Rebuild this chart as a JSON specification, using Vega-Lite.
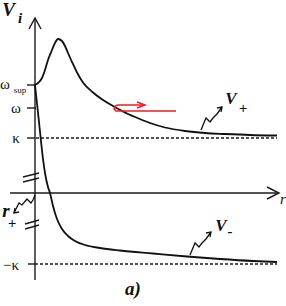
{
  "$schema": "https://vega.github.io/schema/vega-lite/v6.json",
  "width": 286,
  "height": 306,
  "padding": 0,
  "autosize": {"type": "fit", "contains": "padding"},
  "background": "white",
  "config": {"view": {"stroke": null}},
  "datasets": {
    "curves": [
      {"id": "vp", "o": 1, "x": 0, "y": 108}, {"id": "vp", "o": 2, "x": 3, "y": 110}, {"id": "vp", "o": 3, "x": 7, "y": 115},
      {"id": "vp", "o": 4, "x": 10, "y": 123}, {"id": "vp", "o": 5, "x": 13, "y": 133}, {"id": "vp", "o": 6, "x": 17, "y": 143},
      {"id": "vp", "o": 7, "x": 20, "y": 150}, {"id": "vp", "o": 8, "x": 23, "y": 154}, {"id": "vp", "o": 9, "x": 27, "y": 152},
      {"id": "vp", "o": 10, "x": 30, "y": 147}, {"id": "vp", "o": 11, "x": 33, "y": 140}, {"id": "vp", "o": 12, "x": 37, "y": 131},
      {"id": "vp", "o": 13, "x": 42, "y": 120.5}, {"id": "vp", "o": 14, "x": 48, "y": 110.5}, {"id": "vp", "o": 15, "x": 58, "y": 100.5},
      {"id": "vp", "o": 16, "x": 68, "y": 93}, {"id": "vp", "o": 17, "x": 78, "y": 87}, {"id": "vp", "o": 18, "x": 88, "y": 81.5},
      {"id": "vp", "o": 19, "x": 100, "y": 76}, {"id": "vp", "o": 20, "x": 115, "y": 70}, {"id": "vp", "o": 21, "x": 130, "y": 65.5},
      {"id": "vp", "o": 22, "x": 150, "y": 62}, {"id": "vp", "o": 23, "x": 170, "y": 60}, {"id": "vp", "o": 24, "x": 190, "y": 59},
      {"id": "vp", "o": 25, "x": 215, "y": 58}, {"id": "vp", "o": 26, "x": 242, "y": 57.5},
      {"id": "vm", "o": 1, "x": 0, "y": 108}, {"id": "vm", "o": 2, "x": 4, "y": 71}, {"id": "vm", "o": 3, "x": 8, "y": 34},
      {"id": "vm", "o": 4, "x": 10, "y": 20}, {"id": "vm", "o": 5, "x": 13, "y": 6}, {"id": "vm", "o": 6, "x": 15, "y": 0},
      {"id": "vm", "o": 7, "x": 18, "y": -13}, {"id": "vm", "o": 8, "x": 22, "y": -26}, {"id": "vm", "o": 9, "x": 27, "y": -36},
      {"id": "vm", "o": 10, "x": 33, "y": -43}, {"id": "vm", "o": 11, "x": 40, "y": -48}, {"id": "vm", "o": 12, "x": 50, "y": -52},
      {"id": "vm", "o": 13, "x": 65, "y": -55}, {"id": "vm", "o": 14, "x": 85, "y": -57.5}, {"id": "vm", "o": 15, "x": 118, "y": -60.5},
      {"id": "vm", "o": 16, "x": 152, "y": -63.5}, {"id": "vm", "o": 17, "x": 185, "y": -66}, {"id": "vm", "o": 18, "x": 218, "y": -68},
      {"id": "vm", "o": 19, "x": 242, "y": -69}
    ],
    "axes": [
      {"id": "vaxis", "o": 1, "x": 0, "y": -87}, {"id": "vaxis", "o": 2, "x": 0, "y": 175},
      {"id": "varrow", "o": 1, "x": -6, "y": 164}, {"id": "varrow", "o": 2, "x": 0, "y": 175}, {"id": "varrow", "o": 3, "x": 6, "y": 164},
      {"id": "haxis", "o": 1, "x": -25, "y": 0}, {"id": "haxis", "o": 2, "x": 243, "y": 0},
      {"id": "harrow", "o": 1, "x": 232, "y": 6}, {"id": "harrow", "o": 2, "x": 244, "y": 0}, {"id": "harrow", "o": 3, "x": 232, "y": -6},
      {"id": "t1", "o": 1, "x": -8, "y": 108}, {"id": "t1", "o": 2, "x": 0, "y": 108},
      {"id": "t2", "o": 1, "x": -8, "y": 85}, {"id": "t2", "o": 2, "x": 1, "y": 85},
      {"id": "t3", "o": 1, "x": -8, "y": 55}, {"id": "t3", "o": 2, "x": 0, "y": 55},
      {"id": "t4", "o": 1, "x": -7, "y": -71}, {"id": "t4", "o": 2, "x": 0, "y": -71},
      {"id": "b1", "o": 1, "x": -12, "y": 16}, {"id": "b1", "o": 2, "x": 4, "y": 20},
      {"id": "b2", "o": 1, "x": -12, "y": 11}, {"id": "b2", "o": 2, "x": 4, "y": 15},
      {"id": "b3", "o": 1, "x": -10, "y": -31}, {"id": "b3", "o": 2, "x": 4, "y": -27},
      {"id": "b4", "o": 1, "x": -10, "y": -36}, {"id": "b4", "o": 2, "x": 4, "y": -32}
    ],
    "squig": [
      {"id": "s1", "o": 1, "x": 166, "y": 63}, {"id": "s1", "o": 2, "x": 171, "y": 75}, {"id": "s1", "o": 3, "x": 175, "y": 71},
      {"id": "s1", "o": 4, "x": 178, "y": 75}, {"id": "s1", "o": 5, "x": 182, "y": 79}, {"id": "s1", "o": 6, "x": 187, "y": 86},
      {"id": "s1h", "o": 1, "x": 182, "y": 85}, {"id": "s1h", "o": 2, "x": 187, "y": 86}, {"id": "s1h", "o": 3, "x": 186, "y": 81},
      {"id": "s2", "o": 1, "x": 155, "y": -62}, {"id": "s2", "o": 2, "x": 160, "y": -50}, {"id": "s2", "o": 3, "x": 164, "y": -54},
      {"id": "s2", "o": 4, "x": 167, "y": -50}, {"id": "s2", "o": 5, "x": 171, "y": -46}, {"id": "s2", "o": 6, "x": 176, "y": -39},
      {"id": "s2h", "o": 1, "x": 171, "y": -40}, {"id": "s2h", "o": 2, "x": 176, "y": -39}, {"id": "s2h", "o": 3, "x": 175, "y": -44},
      {"id": "s3", "o": 1, "x": 0, "y": -2}, {"id": "s3", "o": 2, "x": -2, "y": -7}, {"id": "s3", "o": 3, "x": -4, "y": -10},
      {"id": "s3", "o": 4, "x": -8, "y": -6}, {"id": "s3", "o": 5, "x": -13, "y": -12}, {"id": "s3", "o": 6, "x": -16, "y": -10},
      {"id": "s3", "o": 7, "x": -21, "y": -20},
      {"id": "s3h", "o": 1, "x": -20, "y": -15}, {"id": "s3h", "o": 2, "x": -21, "y": -20}, {"id": "s3h", "o": 3, "x": -16, "y": -19}
    ],
    "dashed": [
      {"id": "k1", "o": 1, "x": 1, "y": 55}, {"id": "k1", "o": 2, "x": 242, "y": 55},
      {"id": "k2", "o": 1, "x": 0, "y": -71}, {"id": "k2", "o": 2, "x": 242, "y": -71}
    ],
    "red": [
      {"id": "r1", "o": 1, "x": 141, "y": 82}, {"id": "r1", "o": 2, "x": 81, "y": 82}, {"id": "r1", "o": 3, "x": 79, "y": 84},
      {"id": "r1", "o": 4, "x": 80, "y": 87}, {"id": "r1", "o": 5, "x": 83, "y": 88}, {"id": "r1", "o": 6, "x": 110, "y": 88},
      {"id": "rh", "o": 1, "x": 102, "y": 91}, {"id": "rh", "o": 2, "x": 110, "y": 88}, {"id": "rh", "o": 3, "x": 102, "y": 85}
    ],
    "bigLabels": [
      {"t": "V", "x": -26.5, "y": 183},
      {"t": "r", "x": -29, "y": -18},
      {"t": "a)", "x": 98, "y": -96}
    ],
    "midLabels": [
      {"t": "V", "x": 196, "y": 94},
      {"t": "V", "x": 186, "y": -33}
    ],
    "rLabel": [
      {"t": "r", "x": 248, "y": -6}
    ],
    "subLabels": [
      {"t": "i", "x": -15, "y": 175},
      {"t": "+", "x": 208, "y": 85},
      {"t": "-", "x": 195, "y": -38},
      {"t": "+", "x": -23, "y": -30}
    ],
    "greek": [
      {"t": "ω", "x": -30, "y": 109},
      {"t": "ω", "x": -19, "y": 85},
      {"t": "κ", "x": -19, "y": 55},
      {"t": "−κ", "x": -24, "y": -72}
    ],
    "supLabel": [
      {"t": "sup", "x": -15, "y": 103}
    ]
  },
  "encoding": {
    "x": {"field": "x", "type": "quantitative", "scale": {"domain": [-35, 251], "nice": false, "zero": false}, "axis": null},
    "y": {"field": "y", "type": "quantitative", "scale": {"domain": [-113, 193], "nice": false, "zero": false}, "axis": null}
  },
  "layer": [
    {
      "data": {"name": "axes"},
      "mark": {"type": "line", "color": "#1a1a1a", "strokeWidth": 1.4},
      "encoding": {"detail": {"field": "id"}, "order": {"field": "o"}}
    },
    {
      "data": {"name": "dashed"},
      "mark": {"type": "line", "color": "#1a1a1a", "strokeWidth": 1.3, "strokeDash": [3, 2]},
      "encoding": {"detail": {"field": "id"}, "order": {"field": "o"}}
    },
    {
      "data": {"name": "curves"},
      "mark": {"type": "line", "color": "#111111", "strokeWidth": 1.8, "interpolate": "monotone"},
      "encoding": {"detail": {"field": "id"}, "order": {"field": "o"}}
    },
    {
      "data": {"name": "squig"},
      "mark": {"type": "line", "color": "#111111", "strokeWidth": 1.3},
      "encoding": {"detail": {"field": "id"}, "order": {"field": "o"}}
    },
    {
      "data": {"name": "red"},
      "mark": {"type": "line", "color": "#ee1c24", "strokeWidth": 1.5},
      "encoding": {"detail": {"field": "id"}, "order": {"field": "o"}}
    },
    {
      "data": {"name": "bigLabels"},
      "mark": {"type": "text", "font": "Liberation Serif", "fontSize": 19, "fontWeight": "bold", "fontStyle": "italic", "color": "#111111", "align": "center", "baseline": "middle"},
      "encoding": {"text": {"field": "t"}}
    },
    {
      "data": {"name": "midLabels"},
      "mark": {"type": "text", "font": "Liberation Serif", "fontSize": 17, "fontWeight": "bold", "fontStyle": "italic", "color": "#111111", "align": "center", "baseline": "middle"},
      "encoding": {"text": {"field": "t"}}
    },
    {
      "data": {"name": "rLabel"},
      "mark": {"type": "text", "font": "Liberation Serif", "fontSize": 15, "fontStyle": "italic", "color": "#111111", "align": "center", "baseline": "middle"},
      "encoding": {"text": {"field": "t"}}
    },
    {
      "data": {"name": "subLabels"},
      "mark": {"type": "text", "font": "Liberation Serif", "fontSize": 15, "fontWeight": "bold", "fontStyle": "italic", "color": "#111111", "align": "center", "baseline": "middle"},
      "encoding": {"text": {"field": "t"}}
    },
    {
      "data": {"name": "greek"},
      "mark": {"type": "text", "font": "Liberation Serif", "fontSize": 15, "color": "#111111", "align": "center", "baseline": "middle"},
      "encoding": {"text": {"field": "t"}}
    },
    {
      "data": {"name": "supLabel"},
      "mark": {"type": "text", "font": "Liberation Serif", "fontSize": 9, "color": "#111111", "align": "center", "baseline": "middle"},
      "encoding": {"text": {"field": "t"}}
    }
  ]
}
